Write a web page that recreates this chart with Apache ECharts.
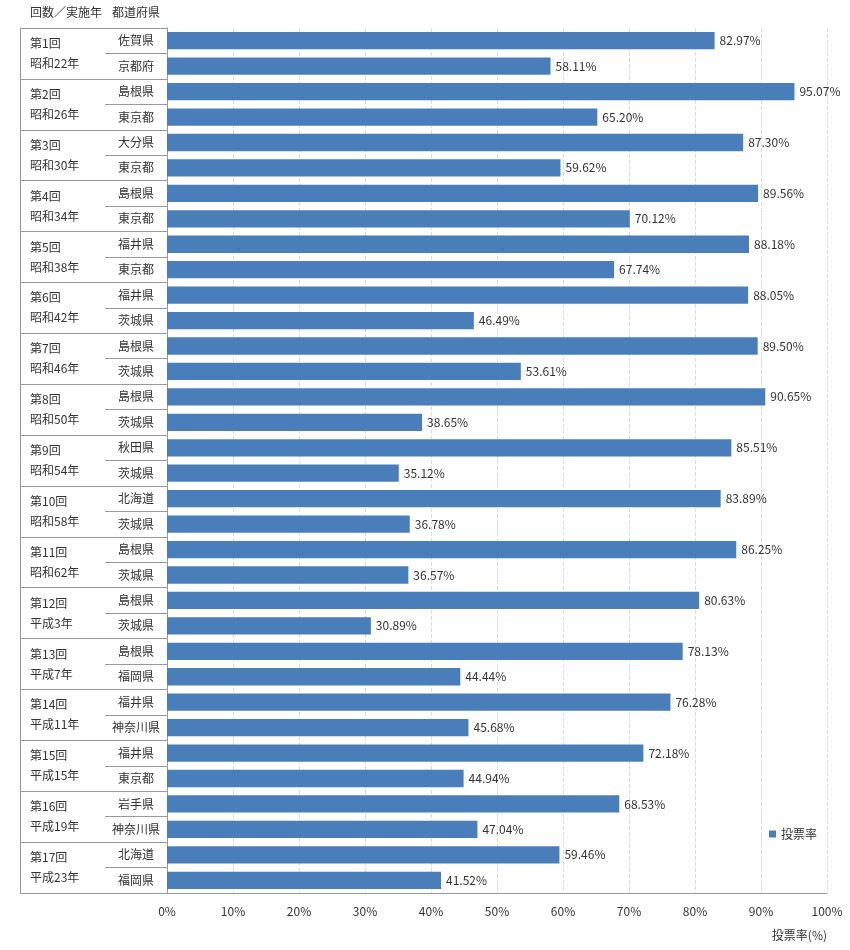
<!DOCTYPE html>
<html><head><meta charset="utf-8">
<script src="https://cdn.jsdelivr.net/npm/echarts@6/dist/echarts.min.js"></script>
<style>body{margin:0;background:#fff}#c{width:850px;height:950px}</style>
</head><body><div id="c"></div>
<script>
const groups = ["第1回\n昭和22年","第2回\n昭和26年","第3回\n昭和30年","第4回\n昭和34年","第5回\n昭和38年","第6回\n昭和42年","第7回\n昭和46年","第8回\n昭和50年","第9回\n昭和54年","第10回\n昭和58年","第11回\n昭和62年","第12回\n平成3年","第13回\n平成7年","第14回\n平成11年","第15回\n平成15年","第16回\n平成19年","第17回\n平成23年"];
const prefs = ["佐賀県","京都府","島根県","東京都","大分県","東京都","島根県","東京都","福井県","東京都","福井県","茨城県","島根県","茨城県","島根県","茨城県","秋田県","茨城県","北海道","茨城県","島根県","茨城県","島根県","茨城県","島根県","福岡県","福井県","神奈川県","福井県","東京都","岩手県","神奈川県","北海道","福岡県"];
const rates = [82.97,58.11,95.07,65.20,87.30,59.62,89.56,70.12,88.18,67.74,88.05,46.49,89.50,53.61,90.65,38.65,85.51,35.12,83.89,36.78,86.25,36.57,80.63,30.89,78.13,44.44,76.28,45.68,72.18,44.94,68.53,47.04,59.46,41.52];
const ticks = [0,10,20,30,40,50,60,70,80,90,100];

const font = "'Noto Sans CJK JP', sans-serif";
const chart = echarts.init(document.getElementById("c"));
chart.setOption({
  textStyle: { fontFamily: font },
  graphic: [
    { type: "text", left: 30, top: 6, style: { text: "回数／実施年", font: "12px " + font, fill: "#333" } },
    { type: "text", left: 112, top: 6, style: { text: "都道府県", font: "12px " + font, fill: "#333" } }
  ],
  legend: {
    data: ["投票率"], right: 28, top: 823, icon: "rect", itemWidth: 7, itemHeight: 7,
    textStyle: { fontSize: 12, color: "#333" }
  },
  grid: { left: 167, right: 23, top: 28, bottom: 57, containLabel: false },
  xAxis: {
    type: "value", min: 0, max: 100, interval: 10,
    name: "投票率(%)", nameLocation: "end", nameGap: 0,
    nameTextStyle: { align: "right", verticalAlign: "top", padding: [36, 0, 0, 0], color: "#333", fontSize: 12 },
    axisLine: { show: true, lineStyle: { color: "#999" } },
    axisTick: { show: false },
    axisLabel: { formatter: v => v + "%", color: "#333", fontSize: 12, margin: 12 },
    splitLine: { show: true, lineStyle: { type: "dashed", color: "#ddd" } }
  },
  yAxis: [
    {
      type: "category", data: prefs, inverse: true,
      axisLine: { show: true, lineStyle: { color: "#999" } },
      axisTick: { show: true, length: 62, lineStyle: { color: "#999" } },
      axisLabel: { color: "#333", fontSize: 12, align: "center", margin: 31 }
    },
    {
      type: "category", data: groups, inverse: true, position: "left", offset: 0,
      axisLine: { show: false },
      axisTick: { show: true, length: 147, lineStyle: { color: "#999" } },
      axisLabel: { color: "#333", fontSize: 12, align: "left", margin: 137, lineHeight: 20 }
    },
    {
      type: "category", data: groups, inverse: true, position: "left", offset: 147,
      axisLine: { show: true, lineStyle: { color: "#999" } },
      axisTick: { show: false }, axisLabel: { show: false }
    }
  ],
  series: [{
    name: "投票率", type: "bar", data: rates, barWidth: "68%",
    itemStyle: { color: "#4a7ebb" },
    label: { show: true, position: "right", formatter: p => p.value.toFixed(2) + "%", color: "#333", fontSize: 12, distance: 5 }
  }]
});
</script></body></html>
